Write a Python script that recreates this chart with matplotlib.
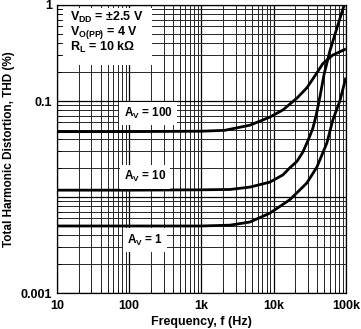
import matplotlib
matplotlib.use('Agg')
import matplotlib.pyplot as plt
from matplotlib.patches import Rectangle
from matplotlib.ticker import FixedLocator, LogLocator, NullFormatter

plt.rcParams['font.family'] = ['Liberation Sans', 'DejaVu Sans']
plt.rcParams['font.weight'] = 'bold'
plt.rcParams['mathtext.fontset'] = 'custom'
plt.rcParams['mathtext.rm'] = 'Liberation Sans:bold'
plt.rcParams['mathtext.it'] = 'Liberation Sans:bold'
plt.rcParams['mathtext.bf'] = 'Liberation Sans:bold'

# THD vs frequency
freq_av100 = [10, 100, 1000, 2100, 4690, 8870, 13400, 21000, 28800, 39700, 48000, 66000, 100000]
thd_av100 = [0.048, 0.048, 0.0485, 0.0495, 0.056, 0.068, 0.0806, 0.107, 0.137, 0.196, 0.245, 0.301, 0.348]

freq_av10 = [10, 100, 1000, 2500, 4690, 8870, 13400, 16800, 21000, 25400, 30000, 34900, 39000, 43700, 50000, 60000, 75000, 95000]
thd_av10 = [0.0118, 0.0118, 0.0119, 0.012, 0.0127, 0.0143, 0.017, 0.0202, 0.0235, 0.0294, 0.039, 0.052, 0.072, 0.11, 0.19, 0.33, 0.57, 1.0]

freq_av1 = [10, 100, 1000, 2500, 4690, 8870, 16800, 28800, 39700, 54600, 66000, 82600, 100000]
thd_av1 = [0.005, 0.005, 0.005, 0.0051, 0.0055, 0.0068, 0.0094, 0.014, 0.0205, 0.0365, 0.0634, 0.1, 0.175]

x_ticks = [10, 100, 1000, 10000, 100000]
x_ticklabels = ['10', '100', '1k', '10k', '100k']
y_ticks = [0.001, 0.01, 0.1, 1]
y_ticklabels = ['0.001', '', '0.1', '1']

fig = plt.figure(figsize=(3.61, 3.29), dpi=100)
ax = fig.add_axes([0.158, 0.109, 0.800, 0.876])

ax.set_xscale('log')
ax.set_yscale('log')
ax.set_xlim(10, 100000)
ax.set_ylim(0.001, 1)

ax.xaxis.set_major_locator(FixedLocator(x_ticks))
ax.set_xticklabels(x_ticklabels)
ax.yaxis.set_major_locator(FixedLocator(y_ticks))
ax.set_yticklabels(y_ticklabels)
ax.xaxis.set_minor_locator(LogLocator(base=10, subs=range(2, 10)))
ax.yaxis.set_minor_locator(LogLocator(base=10, subs=range(2, 10)))
ax.xaxis.set_minor_formatter(NullFormatter())
ax.yaxis.set_minor_formatter(NullFormatter())

ax.grid(True, which='major', color='black', linewidth=0.9)
ax.grid(True, which='minor', color='0.15', linewidth=0.7)
ax.tick_params(which='both', direction='in', length=3, width=0.6, labelsize=9)
ax.tick_params(axis='x', pad=5)
for s in ax.spines.values():
    s.set_linewidth(0.9)

for f, t in [(freq_av100, thd_av100), (freq_av10, thd_av10), (freq_av1, thd_av1)]:
    ax.plot(f, t, color='black', linewidth=2, solid_capstyle='butt', zorder=3)

box = dict(facecolor='white', edgecolor='none', pad=3)
ax.text(182, 0.0745, r'$\mathrm{A_V}$ = 100', ha='center', va='center', fontsize=8.5, bbox=box, zorder=4)
ax.text(165, 0.0162, r'$\mathrm{A_V}$ = 10', ha='center', va='center', fontsize=8.5, bbox=box, zorder=4)
ax.text(165, 0.00356, r'$\mathrm{A_V}$ = 1', ha='center', va='center', fontsize=8.5, bbox=box, zorder=4)

# condition block
ax.add_patch(Rectangle((0.02, 0.79), 0.31, 0.20, transform=ax.transAxes,
                       facecolor='white', edgecolor='none', zorder=4))
conditions = [r'$\mathrm{V_{DD}}$ = ±2.5 V', r'$\mathrm{V_{O(PP)}}$ = 4 V', r'$\mathrm{R_L}$ = 10 kΩ']
for i, c in enumerate(conditions):
    ax.text(0.045, 0.955 - i * 0.052, c, transform=ax.transAxes, ha='left', va='center',
            fontsize=9, zorder=5)

ax.set_xlabel('Frequency, f (Hz)', fontsize=9, fontweight='bold', labelpad=3)
ax.set_ylabel('Total Harmonic Distortion, THD (%)', fontsize=8.5, fontweight='bold', labelpad=4)

fig.savefig('out.png', dpi=100)
